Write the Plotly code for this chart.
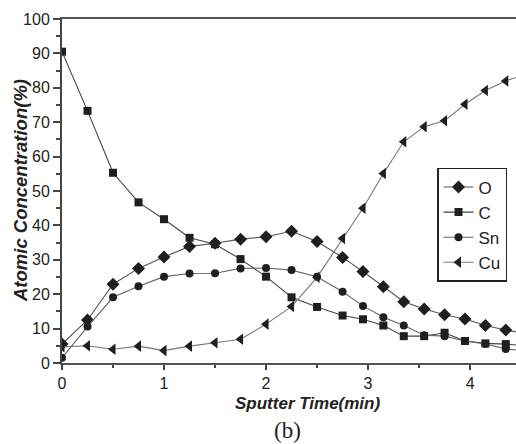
import plotly.graph_objects as go

# Sputter time (min)
time = [0, 0.25, 0.5, 0.75, 1.0, 1.25, 1.5, 1.75, 2.0, 2.25, 2.5, 2.75,
        2.95, 3.15, 3.35, 3.55, 3.75, 3.95, 4.15, 4.35, 4.55]

# Atomic concentration (%)
O_vals = [5.5, 12.5, 22.9, 27.5, 30.8, 33.9, 34.8, 36.0, 36.7, 38.3, 35.3, 30.7,
          26.6, 22.2, 17.8, 15.7, 14.0, 12.8, 10.9, 9.6, 8.5]
C_vals = [90.5, 73.3, 55.3, 46.7, 41.8, 36.4, 34.5, 30.2, 25.1, 19.1, 16.3, 13.8,
          12.7, 10.9, 7.8, 7.8, 8.8, 6.4, 5.7, 5.5, 5.0]
Sn_vals = [1.5, 10.6, 19.1, 22.3, 25.1, 26.0, 26.1, 27.5, 27.6, 27.0, 25.1, 20.7,
           16.6, 13.3, 10.9, 8.1, 7.8, 6.4, 5.5, 4.1, 3.5]
Cu_vals = [4.7, 5.0, 4.0, 4.9, 3.6, 4.9, 5.9, 6.9, 11.3, 16.4, 24.9, 36.2,
           45.0, 55.1, 64.3, 68.7, 70.4, 75.2, 79.2, 82.0, 84.0]

series = [
    ("O", O_vals, "diamond", 10, "#555555"),
    ("C", C_vals, "square", 8, "#444444"),
    ("Sn", Sn_vals, "circle", 8, "#666666"),
    ("Cu", Cu_vals, "triangle-left", 10, "#777777"),
]

FONT = "Arial, Liberation Sans, sans-serif"

fig = go.Figure()
for name, vals, sym, size, lc in series:
    fig.add_trace(go.Scatter(
        x=time, y=vals, name=name, mode="lines+markers",
        line=dict(color=lc, width=1.1),
        marker=dict(symbol=sym, size=size, color="#1f1f1f"),
    ))

fig.update_layout(
    width=516, height=444,
    margin=dict(l=62, r=0, t=19, b=81),
    paper_bgcolor="white", plot_bgcolor="white",
    font=dict(family=FONT, size=16, color="#222222"),
    showlegend=True,
    legend=dict(
        x=0.826, y=0.567, xanchor="left", yanchor="top",
        bordercolor="#222222", borderwidth=1.5, bgcolor="white",
        font=dict(family=FONT, size=17, color="#222222"),
        tracegroupgap=0, itemwidth=30,
    ),
    xaxis=dict(
        range=[0, 4.45], showgrid=False, zeroline=False,
        showline=True, linecolor="#555555", linewidth=2, mirror=True,
        ticks="outside", ticklen=5, tickwidth=1.5, tickcolor="#444444",
        tickvals=[0, 1, 2, 3, 4], ticktext=["0", "1", "2", "3", "4"],
        minor=dict(tickvals=[0.5, 1.5, 2.5, 3.5], ticklen=3, ticks="outside",
                   tickcolor="#444444"),
        tickfont=dict(size=16, color="#222222"),
    ),
    yaxis=dict(
        range=[0, 100], showgrid=False, zeroline=False,
        showline=True, linecolor="#444444", linewidth=2,
        ticks="outside", ticklen=7, tickwidth=1.5, tickcolor="#444444",
        tickvals=list(range(0, 101, 10)),
        minor=dict(dtick=5, ticklen=4, ticks="outside", tickcolor="#444444"),
        tickfont=dict(size=16, color="#222222"),
    ),
    annotations=[
        dict(text="<b><i>Atomic Concentration(%)</i></b>", xref="paper", yref="paper",
             x=-0.0925, y=0.5, xanchor="center", yanchor="middle", textangle=-90,
             showarrow=False, font=dict(family=FONT, size=18.5, color="#222222")),
        dict(text="<b><i>Sputter Time(min)</i></b>", xref="paper", yref="paper",
             x=0.54, y=-0.119, xanchor="center", yanchor="middle",
             showarrow=False, font=dict(family=FONT, size=17, color="#222222")),
        dict(text="(b)", xref="paper", yref="paper",
             x=0.4956, y=-0.197, xanchor="center", yanchor="middle",
             showarrow=False,
             font=dict(family="Liberation Serif, Times New Roman, serif", size=23,
                       color="#222222")),
    ],
)

fig.write_html("out.html")
